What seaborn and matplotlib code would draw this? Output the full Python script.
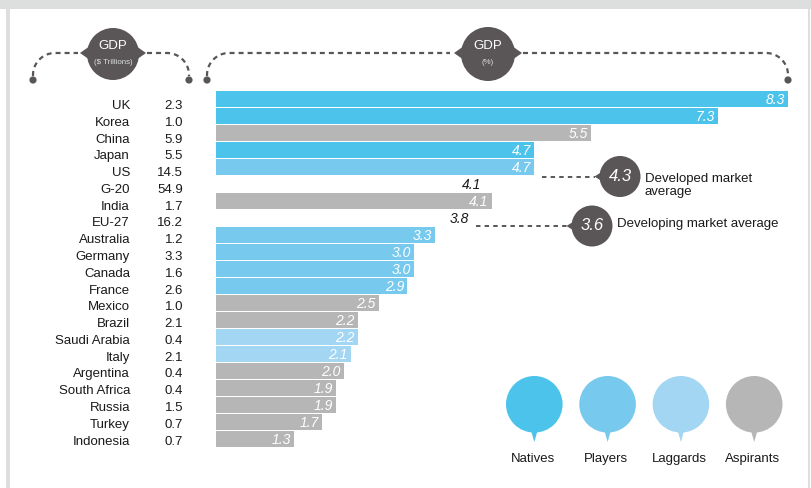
import numpy as np
import pandas as pd
import matplotlib
matplotlib.use("Agg")
import matplotlib.pyplot as plt
import seaborn as sns
from matplotlib.patches import Circle, Polygon, Rectangle
from matplotlib import transforms

# ---------------- data ----------------
countries = ["UK", "Korea", "China", "Japan", "US", "G-20", "India", "EU-27",
             "Australia", "Germany", "Canada", "France", "Mexico", "Brazil",
             "Saudi Arabia", "Italy", "Argentina", "South Africa", "Russia",
             "Turkey", "Indonesia"]
gdp_trillions = [2.3, 1.0, 5.9, 5.5, 14.5, 54.9, 1.7, 16.2, 1.2, 3.3, 1.6, 2.6,
                 1.0, 2.1, 0.4, 2.1, 0.4, 0.4, 1.5, 0.7, 0.7]
gdp_pct = [8.3, 7.3, 5.5, 4.7, 4.7, 4.1, 4.1, 3.8, 3.3, 3.0, 3.0, 2.9, 2.5, 2.2,
           2.2, 2.1, 2.0, 1.9, 1.9, 1.7, 1.3]
groups = ["Natives", "Natives", "Aspirants", "Natives", "Players", None,
          "Aspirants", None, "Players", "Players", "Players", "Players",
          "Aspirants", "Aspirants", "Laggards", "Laggards", "Aspirants",
          "Aspirants", "Aspirants", "Aspirants", "Aspirants"]
group_names = ["Natives", "Players", "Laggards", "Aspirants"]
group_colors = {"Natives": "#4cc3eb", "Players": "#78c9ee",
                "Laggards": "#a3d6f2", "Aspirants": "#b5b6b5"}
developed_avg = 4.3
developing_avg = 3.6

df = pd.DataFrame({"country": countries, "gdp": gdp_trillions,
                   "pct": gdp_pct, "group": groups})
bars = df[df["group"].notna()]

# ---------------- style ----------------
sns.set_theme(style="white")
plt.rcParams["font.family"] = ["Liberation Sans", "DejaVu Sans"]
plt.rcParams["lines.scale_dashes"] = False

DARK = "#5a5657"
TXT = "#1a1a1a"
W, H = 812, 488

fig = plt.figure(figsize=(W / 100, H / 100), dpi=100)
fig.patch.set_facecolor("white")

# background axes in pixel coordinates
bg = fig.add_axes([0, 0, 1, 1])
bg.set_xlim(0, W)
bg.set_ylim(H, 0)
bg.axis("off")

# frame
frame_c = "#dcdfdd"
bg.add_patch(Rectangle((0, 0), W, 9, color=frame_c, lw=0))
bg.add_patch(Rectangle((6, 0), 4, H, color=frame_c, lw=0))
bg.add_patch(Rectangle((808.5, 0), 1.5, H, color=frame_c, lw=0))

# ---------------- bars ----------------
top_px, row_px = 90.5, 17.0
ax = fig.add_axes([216 / W, (H - (top_px + row_px * len(countries))) / H,
                   592 / W, row_px * len(countries) / H])
sns.barplot(data=bars, x="pct", y="country", hue="group", order=countries,
            hue_order=group_names, palette=group_colors, dodge=False,
            width=0.92, legend=False, ax=ax, linewidth=0, saturation=1)
ax.set_xlim(0.194, 8.579)
ax.set_ylim(len(countries) - 0.5, -0.5)
ax.axis("off")

# value labels
for i, (v, g) in enumerate(zip(gdp_pct, groups)):
    if g is not None:
        tr = transforms.offset_copy(ax.transData, fig=fig, x=-3, y=-5, units="dots")
        ax.text(v, i, f"{v:.1f}", transform=tr, ha="right", va="baseline",
                color="white", fontsize=10, style="italic")
    else:
        dx = -10 if countries[i] == "G-20" else -2
        tr = transforms.offset_copy(ax.transData, fig=fig, x=dx, y=-5, units="dots")
        ax.text(v, i, f"{v:.1f}", transform=tr, ha="right", va="baseline",
                color=TXT, fontsize=10, style="italic")

# left labels
for i, (c, g) in enumerate(zip(countries, gdp_trillions)):
    yb = 109 + 16.78 * i
    bg.text(130, yb, c, ha="right", va="baseline", fontsize=9.5, color=TXT)
    bg.text(183, yb, f"{g:.1f}", ha="right", va="baseline", fontsize=9.5, color=TXT)

# ---------------- header brackets ----------------
dash_kw = dict(color=DARK, lw=1.6, dashes=(3.6, 2.9), solid_capstyle="butt",
               dash_capstyle="butt")


def arc_pts(cx, cy, r, a0, a1, n=30):
    a = np.radians(np.linspace(a0, a1, n))
    return cx + r * np.cos(a), cy - r * np.sin(a)


def bracket(x_left, x_right, xl_in, xr_in, y_line=53, y_dot=80, R=22):
    # left part
    ax_, ay_ = arc_pts(x_left + R, y_line + R, R, 180, 90)
    xs = np.concatenate([[x_left], ax_, [xl_in]])
    ys = np.concatenate([[y_dot - 4], ay_, [y_line]])
    bg.plot(xs, ys, **dash_kw)
    # right part
    bx_, by_ = arc_pts(x_right - R, y_line + R, R, 90, 0)
    xs = np.concatenate([[xr_in], bx_, [x_right]])
    ys = np.concatenate([[y_line], by_, [y_dot - 4]])
    bg.plot(xs, ys, **dash_kw)
    for x in (x_left, x_right):
        bg.add_patch(Circle((x, y_dot), 3.6, color=DARK, lw=0))


def header_bubble(cx, cy, r, title, sub):
    bg.add_patch(Circle((cx, cy), r, color=DARK, lw=0))
    y0 = 53
    bg.add_patch(Polygon([(cx - r - 7, y0), (cx - r + 3, y0 - 7),
                          (cx - r + 3, y0 + 7)], color=DARK, lw=0))
    bg.add_patch(Polygon([(cx + r + 7, y0), (cx + r - 3, y0 - 7),
                          (cx + r - 3, y0 + 7)], color=DARK, lw=0))
    bg.text(cx, cy - 8, title, ha="center", va="center", color="white", fontsize=9.5)
    bg.text(cx, cy + 8, sub, ha="center", va="center", color="#dddddd", fontsize=5.7)


bracket(33, 189, 78, 147)
header_bubble(113, 54, 26, "GDP", "($ Trillions)")
bracket(207, 788, 450, 523)
header_bubble(488, 54, 27, "GDP", "(%)")

# ---------------- market averages ----------------
avg_dash = dict(color=DARK, lw=1.4, dashes=(3.2, 3.0))


def avg_bubble(cx, cy, r, val, x_start, label_lines, label_x, baselines):
    bg.plot([x_start, cx - r - 4], [cy, cy], **avg_dash)
    bg.add_patch(Circle((cx, cy), r, color=DARK, lw=0))
    bg.add_patch(Polygon([(cx - r - 5, cy), (cx - r + 3, cy - 5),
                          (cx - r + 3, cy + 5)], color=DARK, lw=0))
    bg.text(cx, cy, f"{val:.1f}", ha="center", va="center", color="white",
            fontsize=12, style="italic")
    for line, yb in zip(label_lines, baselines):
        bg.text(label_x, yb, line, ha="left", va="baseline", color=TXT, fontsize=9.5)


avg_bubble(620, 176.5, 20.5, developed_avg, 542, ["Developed market", "average"],
           645, [182, 194.5])
avg_bubble(592, 226, 20.5, developing_avg, 476, ["Developing market average"],
           617, [227])

# ---------------- legend bubbles ----------------
leg_y, leg_r = 404.3, 28.3
for k, name in enumerate(group_names):
    cx = 534.3 + 73.3 * k
    col = group_colors[name]
    bg.add_patch(Circle((cx, leg_y), leg_r, color=col, lw=0))
    bg.add_patch(Polygon([(cx - 3.5, leg_y + leg_r - 3), (cx + 3.5, leg_y + leg_r - 3),
                          (cx, leg_y + leg_r + 9.5)], color=col, lw=0))
    bg.text(cx - 1.5, 462, name, ha="center", va="baseline", color=TXT, fontsize=9.5)

fig.savefig("out.png", dpi=100, facecolor="white")
